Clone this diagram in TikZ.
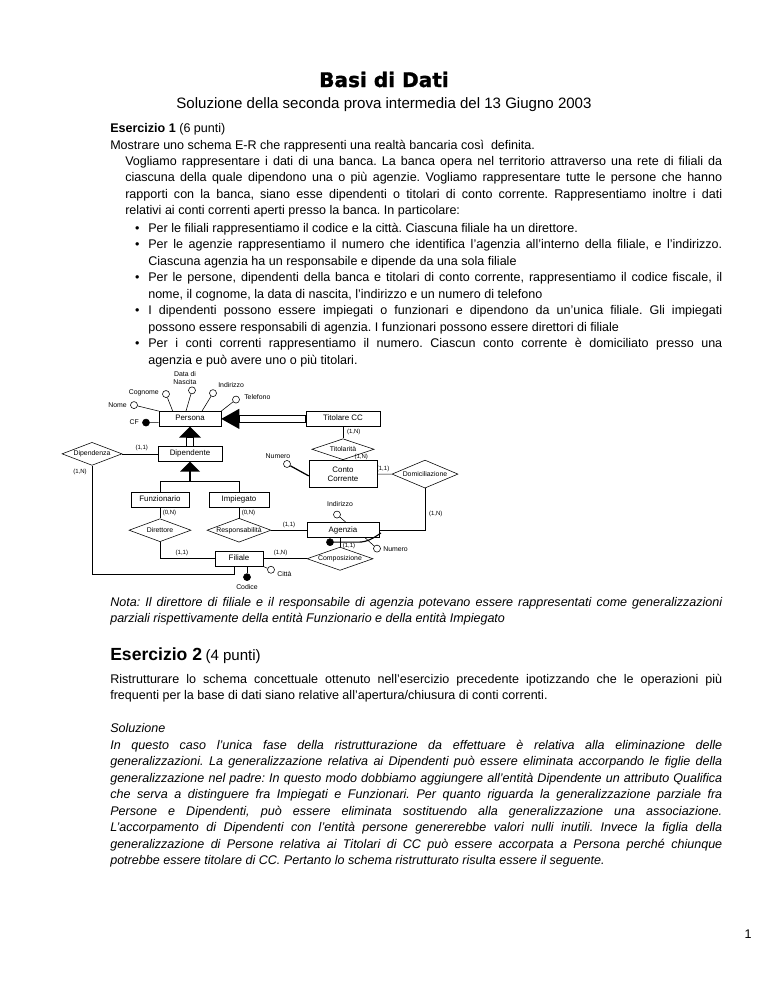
\documentclass[tikz,border=0pt]{standalone}
\usepackage{fontspec}
\setmainfont{Liberation Sans}
\newfontfamily\titlefont{DejaVu Sans}[BoldFeatures={FakeBold=1.2}]
\usetikzlibrary{shapes.geometric,calc}
\newcommand{\pw}[1]{#1*0.797pt}
\newcommand{\blt}{\leavevmode\llap{\hbox to 10.4pt{\textbullet\hfil}}}
\frenchspacing

\tikzset{
  ent/.style={draw, fill=white, align=center, inner sep=1pt, minimum height=\pw{15}, font=\fontsize{6.3}{7.2}\selectfont},
  ent1/.style={ent, text height=4.6pt, text depth=1.4pt},
  rel/.style={draw, diamond, aspect=2.6, fill=white, inner sep=0pt, font=\fontsize{5.5}{6}\selectfont},
  attr/.style={draw, circle, fill=white, minimum size=5.6pt, inner sep=0pt},
  key/.style={attr, fill=black},
  lbl/.style={inner sep=0pt, align=center, font=\fontsize{5.5}{6.2}\selectfont},
  card/.style={inner sep=0pt, font=\fontsize{4.8}{5}\selectfont},
  plain/.style={inner sep=0pt, anchor=base west, font=\fontsize{10}{13.15}\selectfont},
  para/.style={plain, align=justify},
}

\begin{document}
\begin{tikzpicture}[x=0.797pt, y=-0.797pt, line width=0.45pt]
  \useasboundingbox[fill=white] (0,0) rectangle (768,994);
  % ---------------------------------------------------------------- heading
  \node[inner sep=0pt, anchor=base] (titolo) at (384,87) {\titlefont\bfseries\fontsize{16}{19}\selectfont Basi di Dati};
  \node[inner sep=0pt, anchor=base, font=\fontsize{12}{14}\selectfont] (sottotitolo) at (384,108) {Soluzione della seconda prova intermedia del 13 Giugno 2003};
  % ---------------------------------------------------------------- esercizio 1
  \node[plain] (es1) at (110,132) {\textbf{Esercizio 1} (6 punti)};
  \node[plain] (consegna) at (110,149) {Mostrare uno schema E-R che rappresenti una realtà bancaria così\ \ definita.};
  \node[para, text width=475.8pt] (descr) at (125,165) {Vogliamo rappresentare i dati di una banca. La banca opera nel territorio attraverso una rete di filiali da\linebreak
    ciascuna della quale dipendono una o più agenzie. Vogliamo rappresentare tutte le persone che hanno\linebreak
    rapporti con la banca, siano esse dipendenti o titolari di conto corrente. Rappresentiamo inoltre i dati\linebreak
    relativi ai conti correnti aperti presso la banca. In particolare:};
  \node[para, text width=457.5pt] (punti) at (148,232) {\blt Per le filiali rappresentiamo il codice e la città. Ciascuna filiale ha un direttore.\par
    \blt Per le agenzie rappresentiamo il numero che identifica l’agenzia all’interno della filiale, e l’indirizzo.\linebreak
    Ciascuna agenzia ha un responsabile e dipende da una sola filiale\par
    \blt Per le persone, dipendenti della banca e titolari di conto corrente, rappresentiamo il codice fiscale, il\linebreak
    nome, il cognome, la data di nascita, l’indirizzo e un numero di telefono\par
    \blt I dipendenti possono essere impiegati o funzionari e dipendono da un’unica filiale. Gli impiegati\linebreak
    possono essere responsabili di agenzia. I funzionari possono essere direttori di filiale\par
    \blt Per i conti correnti rappresentiamo il numero. Ciascun conto corrente è domiciliato presso una\linebreak
    agenzia e può avere uno o più titolari.};
  % ---------------------------------------------------------------- schema E-R
  \begin{scope}[shift={(0,28.8)}, yscale=0.92]
  % entities
  \node[ent1, minimum width=\pw{62}] (persona) at (190,424) {Persona};
  \node[ent1, minimum width=\pw{74}] (titolare) at (343,424) {Titolare CC};
  \node[ent1, minimum width=\pw{64}] (dipendente) at (190,462) {Dipendente};
  \node[ent, minimum width=\pw{68}, minimum height=\pw{27}] (conto) at (343,484) {Conto\\Corrente};
  \node[ent1, minimum width=\pw{58}] (funzionario) at (160,512) {Funzionario};
  \node[ent1, minimum width=\pw{60}] (impiegato) at (239,512) {Impiegato};
  \node[ent1, minimum width=\pw{72}] (agenzia) at (343,545) {Agenzia};
  \node[ent1, minimum width=\pw{48}] (filiale) at (239,576) {Filiale};
  % relationships
  \node[rel, minimum width=\pw{60}, minimum height=\pw{23}] (dipendenza) at (92,462) {Dipendenza};
  \node[rel, minimum width=\pw{62}, minimum height=\pw{21}] (titolarita) at (343,457) {Titolarità};
  \node[rel, minimum width=\pw{66}, minimum height=\pw{28}] (domiciliazione) at (425,484) {Domiciliazione};
  \node[rel, minimum width=\pw{62}, minimum height=\pw{23}] (direttore) at (160,545) {Direttore};
  \node[rel, minimum width=\pw{64}, minimum height=\pw{21}] (responsabilita) at (239,545) {Responsabilità};
  \node[rel, minimum width=\pw{66}, minimum height=\pw{21}] (composizione) at (340,576) {Composizione};
  % links
  \draw (titolare) -- node[card, at start, anchor=north west, xshift=3pt, yshift=-1.5pt] (cTitA) {(1,N)} (titolarita);
  \draw (titolarita) -- node[card, at end, anchor=south west, xshift=9pt, yshift=0.5pt] (cTitB) {(1,N)} (conto);
  \draw (conto) -- node[card, pos=.4, above=2pt] (cDomA) {(1,1)} (domiciliazione);
  \draw (domiciliazione.south) |- node[card, pos=.3, right=3pt] (cDomB) {(1,N)} (agenzia.east);
  \draw (dipendenza.east) -- node[card, pos=.55, above=2pt] (cDipA) {(1,1)} (dipendente.west);
  \coordinate (dipGiro) at (92,593);
  \draw (dipendenza.south) -- node[card, pos=.06, left=4pt] (cDipB) {(1,N)} (dipGiro) -| ([xshift=-4pt]filiale.south);
  \draw (funzionario) -- node[card, right=2pt] (cDirA) {(0,N)} (direttore);
  \draw (direttore.south) |- node[card, pos=.7, above=2pt] (cDirB) {(1,1)} (filiale.west);
  \draw (impiegato) -- node[card, right=2pt] (cResA) {(0,N)} (responsabilita);
  \draw (responsabilita.east) -- node[card, pos=.5, above=2pt] (cResB) {(1,1)} (agenzia.west);
  \draw (filiale.east) -- node[card, pos=.4, above=2pt] (cComA) {(1,N)} (composizione.west);
  \draw (composizione.north) -- node[card, pos=.15, right=2pt] (cComB) {(1,1)} (composizione.north |- agenzia.south);
  % generalizations
  \fill (persona.south) -- ++(-11,12) -- ++(22,0) -- cycle;
  \draw[fill=white] ($(persona.south)+(-3.5,12)$) rectangle ($(dipendente.north)+(3.5,0)$);
  \fill (persona.east) -- ++(18,-11) -- ++(0,22) -- cycle;
  \draw[fill=white] ($(persona.east)+(18,-3.5)$) rectangle ($(titolare.west)+(0,3.5)$);
  \fill (dipendente.south) -- ++(-10,11) -- ++(20,0) -- cycle;
  \draw[line width=2pt] ($(dipendente.south)+(0,10)$) -- ++(0,12);
  \draw (funzionario.north) -- ++(0,-12) -| (impiegato.north);
  % attributes of Persona
  \node[key] (aCF) at (146,428) {};
  \node[lbl, anchor=east] (lCF) at (139,428) {CF};
  \draw ($(persona.west)+(0,4)$) -- (aCF);
  \node[attr] (aNome) at (134,409) {};
  \node[lbl, anchor=east] (lNome) at (127,409) {Nome};
  \draw (aNome) -- (persona.north west);
  \node[attr] (aCognome) at (166,397) {};
  \node[lbl, anchor=east] (lCognome) at (159,396) {Cognome};
  \draw (aCognome) -- ($(persona.north west)+(14,0)$);
  \node[attr] (aNascita) at (192,393) {};
  \node[lbl] (lNascita) at (185,380) {Data di\\Nascita};
  \draw (aNascita) -- ($(persona.north)+(-4,0)$);
  \node[attr] (aIndirizzo) at (213,396) {};
  \node[lbl, anchor=west] (lIndirizzo) at (218,387) {Indirizzo};
  \draw (aIndirizzo) -- ($(persona.north)+(12,0)$);
  \node[attr] (aTelefono) at (236,403) {};
  \node[lbl, anchor=west] (lTelefono) at (244,400) {Telefono};
  \draw (aTelefono) -- (persona.north east);
  % attributes of Conto Corrente
  \node[attr] (aNumConto) at (287,473) {};
  \node[lbl] (lNumConto) at (278,465) {Numero};
  \draw[line width=1pt] (aNumConto) -- ($(conto.west)+(0,2)$);
  % attributes of Agenzia
  \node[attr] (aIndAg) at (337,528) {};
  \node[lbl] (lIndAg) at (340,517) {Indirizzo};
  \draw (aIndAg) -- ($(agenzia.north)+(3,0)$);
  \node[attr] (aNumAg) at (377,565) {};
  \node[lbl, anchor=west] (lNumAg) at (383,566) {Numero};
  \draw ($(agenzia.south east)+(-14,0)$) -- (aNumAg);
  \node[key] (kAg) at (330,558) {};
  \draw[line width=0.9pt] (kAg) -- (358,558) .. controls (368,558) and (374,553) .. (381,548);
  % attributes of Filiale
  \node[key] (kFil) at (247,596) {};
  \node[lbl] (lCodice) at (247,607) {Codice};
  \draw ($(filiale.south)+(8,0)$) -- (kFil);
  \node[attr] (aCitta) at (271,588) {};
  \node[lbl, anchor=west] (lCitta) at (277,593) {Città};
  \draw (filiale.south east) -- (aCitta);
  \end{scope}
  % ---------------------------------------------------------------- nota
  \node[para, text width=487.8pt, font=\fontsize{10}{13.15}\selectfont\itshape] (nota) at (110,606) {Nota: Il direttore di filiale e il responsabile di agenzia potevano essere rappresentati come generalizzazioni\linebreak
    parziali rispettivamente della entità Funzionario e della entità Impiegato};
  % ---------------------------------------------------------------- esercizio 2
  \node[plain] (es2) at (110,660) {{\fontsize{14}{16}\selectfont\bfseries Esercizio 2} {\fontsize{12}{14}\selectfont(4 punti)}};
  \node[para, text width=487.8pt] (richiesta) at (110,683) {Ristrutturare lo schema concettuale ottenuto nell’esercizio precedente ipotizzando che le operazioni più\linebreak
    frequenti per la base di dati siano relative all’apertura/chiusura di conti correnti.};
  \node[plain, font=\fontsize{10}{13.15}\selectfont\itshape] (soluzione) at (110,732) {Soluzione};
  \node[para, text width=487.8pt, font=\fontsize{10}{13.15}\selectfont\itshape] (risposta) at (110,749) {In questo caso l’unica fase della ristrutturazione da effettuare è relativa alla eliminazione delle\linebreak
    generalizzazioni. La generalizzazione relativa ai Dipendenti può essere eliminata accorpando le figlie della\linebreak
    generalizzazione nel padre: In questo modo dobbiamo aggiungere all’entità Dipendente un attributo Qualifica\linebreak
    che serva a distinguere fra Impiegati e Funzionari. Per quanto riguarda la generalizzazione parziale fra\linebreak
    Persone e Dipendenti, può essere eliminata sostituendo alla generalizzazione una associazione.\linebreak
    L’accorpamento di Dipendenti con l’entità persone genererebbe valori nulli inutili. Invece la figlia della\linebreak
    generalizzazione di Persone relativa ai Titolari di CC può essere accorpata a Persona perché chiunque\linebreak
    potrebbe essere titolare di CC. Pertanto lo schema ristrutturato risulta essere il seguente.};
  \node[inner sep=0pt, anchor=base, font=\fontsize{10}{12}\selectfont] (pagina) at (748,938) {1};
\end{tikzpicture}
\end{document}
